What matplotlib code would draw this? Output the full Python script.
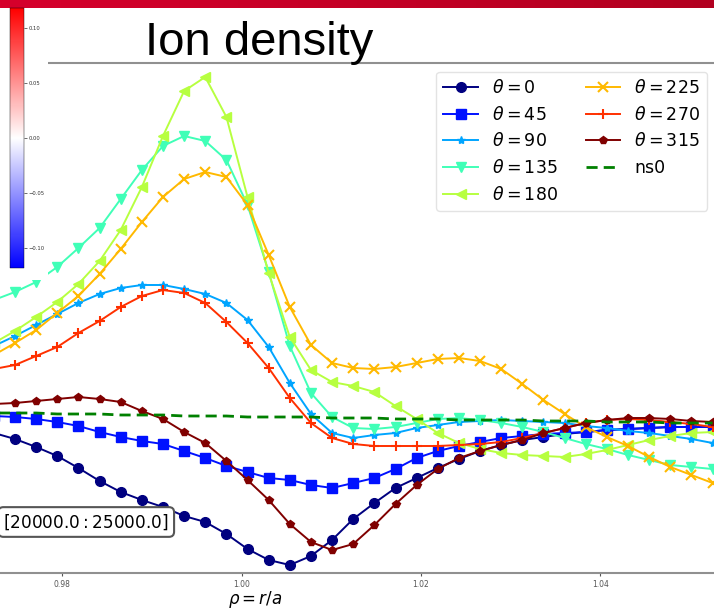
"""
Ion density profiles along rho = r/a for 8 poloidal angles (slide crop).
Saves out.png
"""
import numpy as np
import matplotlib
matplotlib.use("Agg")
import matplotlib.pyplot as plt
from matplotlib.colors import Normalize, LinearSegmentedColormap
from matplotlib.colorbar import ColorbarBase

OUT_PATH = "out.png"
W, H = 714, 609

# rho = r/a grid
RHO = [0.97241, 0.97476, 0.97712, 0.97947, 0.98183, 0.98419, 0.98654,
       0.98890, 0.99125, 0.99361, 0.99596, 0.99832, 1.00067, 1.00303,
       1.00538, 1.00774, 1.01009, 1.01245, 1.01481, 1.01716, 1.01952,
       1.02187, 1.02423, 1.02658, 1.02894, 1.03129, 1.03365, 1.03600,
       1.03836, 1.04071, 1.04307, 1.04543, 1.04778, 1.05014, 1.05249]

THETAS = [0, 45, 90, 135, 180, 225, 270, 315]

# ion density (arb. units), time window [20000 : 25000]
NI_0 = [1.40, 1.34, 1.26, 1.17, 1.05, 0.92, 0.81, 0.73, 0.66, 0.57, 0.51, 0.39,
        0.24, 0.13, 0.08, 0.17, 0.33, 0.54, 0.70, 0.85, 0.95, 1.05, 1.14, 1.22,
        1.28, 1.33, 1.36, 1.39, 1.41, 1.43, 1.44, 1.45, 1.46, 1.46, 1.46]
NI_45 = [1.57, 1.56, 1.54, 1.51, 1.47, 1.41, 1.36, 1.32, 1.29, 1.22, 1.15, 1.07,
         1.01, 0.95, 0.93, 0.88, 0.85, 0.90, 0.95, 1.04, 1.15, 1.22, 1.27, 1.31,
         1.35, 1.37, 1.39, 1.40, 1.41, 1.43, 1.44, 1.45, 1.46, 1.46, 1.46]
NI_90 = [2.27, 2.37, 2.48, 2.59, 2.70, 2.79, 2.85, 2.88, 2.88, 2.84, 2.79, 2.70,
         2.53, 2.26, 1.90, 1.59, 1.40, 1.35, 1.38, 1.40, 1.45, 1.48, 1.51, 1.52,
         1.53, 1.52, 1.51, 1.50, 1.47, 1.45, 1.42, 1.40, 1.37, 1.34, 1.30]
NI_135 = [2.73, 2.81, 2.91, 3.06, 3.25, 3.45, 3.74, 4.03, 4.27, 4.37, 4.32, 4.13,
          3.68, 3.01, 2.27, 1.80, 1.56, 1.45, 1.44, 1.46, 1.50, 1.54, 1.55, 1.53,
          1.50, 1.46, 1.41, 1.35, 1.29, 1.24, 1.18, 1.13, 1.08, 1.06, 1.04]
NI_180 = [2.30, 2.42, 2.56, 2.71, 2.89, 3.12, 3.43, 3.86, 4.37, 4.82, 4.96, 4.56,
          3.76, 3.00, 2.36, 2.03, 1.91, 1.87, 1.81, 1.67, 1.54, 1.40, 1.30, 1.24,
          1.20, 1.18, 1.17, 1.16, 1.19, 1.23, 1.28, 1.33, 1.37, 1.40, 1.41]
NI_225 = [2.18, 2.30, 2.43, 2.60, 2.77, 2.99, 3.24, 3.51, 3.76, 3.94, 4.01, 3.96,
          3.68, 3.18, 2.66, 2.28, 2.10, 2.05, 2.04, 2.06, 2.10, 2.14, 2.15, 2.12,
          2.04, 1.89, 1.73, 1.59, 1.46, 1.36, 1.27, 1.16, 1.06, 0.98, 0.90]
NI_270 = [2.04, 2.08, 2.17, 2.26, 2.40, 2.52, 2.66, 2.77, 2.83, 2.80, 2.70, 2.51,
          2.30, 2.05, 1.75, 1.50, 1.35, 1.29, 1.27, 1.27, 1.27, 1.27, 1.28, 1.29,
          1.31, 1.35, 1.40, 1.45, 1.50, 1.53, 1.54, 1.53, 1.51, 1.49, 1.46]
NI_315 = [1.69, 1.70, 1.72, 1.74, 1.76, 1.74, 1.71, 1.62, 1.54, 1.41, 1.30, 1.12,
          0.93, 0.73, 0.49, 0.31, 0.23, 0.29, 0.48, 0.69, 0.88, 1.04, 1.15, 1.22,
          1.28, 1.33, 1.40, 1.45, 1.50, 1.53, 1.55, 1.55, 1.54, 1.52, 1.51]
NS0 = [1.60, 1.60, 1.60, 1.59, 1.59, 1.59, 1.58, 1.58, 1.58, 1.57, 1.57, 1.57,
       1.56, 1.56, 1.56, 1.56, 1.55, 1.55, 1.55, 1.54, 1.54, 1.54, 1.53, 1.53,
       1.53, 1.53, 1.52, 1.52, 1.52, 1.51, 1.51, 1.51, 1.50, 1.50, 1.50]

PROFILES = [NI_0, NI_45, NI_90, NI_135, NI_180, NI_225, NI_270, NI_315]
MARKERS = ["o", "s", "*", "v", "<", "x", "+", "p"]

XLIM = (0.97309, 1.05265)
YLIM = (0.0, 5.10)
CBAR_LIM = 0.118


def px_box(x0, y0, x1, y1):
    # pixel box (top-left origin) -> figure fraction rect
    return [x0 / W, (H - y1) / H, (x1 - x0) / W, (y1 - y0) / H]


def draw_profiles(fig):
    ax = fig.add_axes(px_box(0, 63, W, 573))
    colors = plt.cm.jet(np.linspace(0, 1, len(THETAS)))
    for th, ni, mk, c in zip(THETAS, PROFILES, MARKERS, colors):
        ms = 6 if mk in ("*", "p") else 7
        ax.plot(RHO, ni, marker=mk, color=c, lw=1.4, ms=ms,
                mew=1.5 if mk in ("x", "+") else 1.0,
                label=rf"$\theta = {th}$")
    ax.plot(RHO, NS0, "--", color="green", lw=2, dashes=(4, 2.2), label="ns0")

    ax.set_xlim(*XLIM)
    ax.set_ylim(*YLIM)
    ax.set_xticks([0.98, 1.00, 1.02, 1.04])
    ax.set_xticklabels(["0.98", "1.00", "1.02", "1.04"])
    ax.set_yticks([])
    ax.tick_params(axis="x", labelsize=5.5, colors="#555555", length=2.5,
                   width=0.8, pad=2.5)
    for side in ("left", "right"):
        ax.spines[side].set_visible(False)
    for side in ("top", "bottom"):
        ax.spines[side].set_color("#909090")
        ax.spines[side].set_linewidth(1.5)

    ax.legend(ncol=2, fontsize=12.5, loc="upper right",
              bbox_to_anchor=(707 / W, (H - 72) / H),
              bbox_transform=fig.transFigure, borderaxespad=0,
              columnspacing=1.6, handlelength=2.0, edgecolor="#dddddd")

    # time window tag, its box runs off the left edge as in the slide
    fig.text(169 / W, (H - 522) / H, r"$[20000.0:25000.0]$", fontsize=12.2,
             ha="right", va="center",
             bbox=dict(boxstyle="round,pad=0.3", fc="white", ec="#555555",
                       lw=1.5))
    fig.text(255 / W, (H - 599) / H, r"$\rho = r/a$", fontsize=12,
             ha="center", va="center")
    return ax


def draw_slide_parts(fig):
    # red banner across the top
    bar = fig.add_axes(px_box(0, 0, W, 8))
    red = LinearSegmentedColormap.from_list("banner", ["#d6002c", "#b20020"])
    bar.imshow(np.linspace(0, 1, 256)[None, :], cmap=red, aspect="auto")
    bar.axis("off")

    fig.text(145 / W, (H - 55) / H, "Ion density", fontsize=34,
             family="Liberation Sans", va="baseline", ha="left")

    # pasted colorbar image (white box over the plot corner)
    panel = fig.add_axes(px_box(0, 8, 48, 280))
    panel.set_facecolor("white")
    panel.set_xticks([])
    panel.set_yticks([])
    for sp in panel.spines.values():
        sp.set_visible(False)

    cax = fig.add_axes(px_box(10, 8, 24, 268))
    cb = ColorbarBase(cax, cmap="bwr",
                      norm=Normalize(-CBAR_LIM, CBAR_LIM))
    cb.set_ticks([-0.10, -0.05, 0.0, 0.05, 0.10])
    cb.set_ticklabels(["\u22120.10", "\u22120.05", "0.00", "0.05", "0.10"])
    cb.outline.set_linewidth(0.3)
    cax.tick_params(labelsize=3.8, length=2, width=0.5, pad=1.2,
                    colors="#333333")


def run():
    fig = plt.figure(figsize=(W / 100, H / 100), dpi=100)
    draw_profiles(fig)
    draw_slide_parts(fig)
    fig.savefig(OUT_PATH, dpi=100)
    plt.close(fig)
    print(f"Saved {OUT_PATH}")


if __name__ == "__main__":
    run()
